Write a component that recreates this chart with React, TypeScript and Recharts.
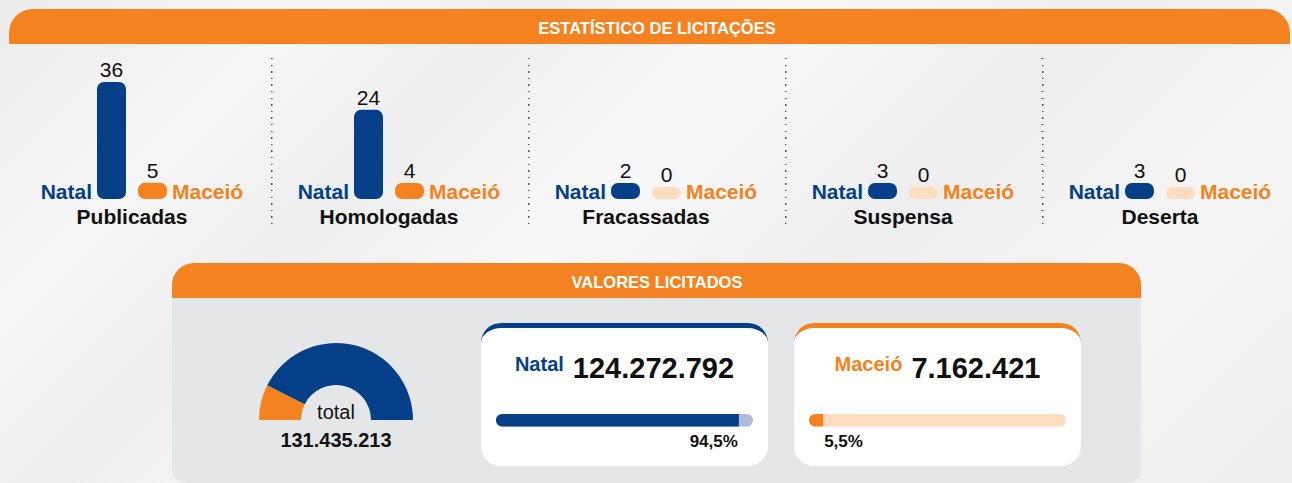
import { BarChart, Bar, XAxis, YAxis, LabelList, Cell, PieChart, Pie } from 'recharts'

const BLUE = '#043f88'
const ORANGE = '#f58220'
const PEACH = '#fddcbf'
const LAVENDER = '#b4b8dc'
const FONT = '"Liberation Sans", Arial, Helvetica, sans-serif'

// contagem de licitações por status
const categories = ['Publicadas', 'Homologadas', 'Fracassadas', 'Suspensa', 'Deserta']
const natalCounts = [36, 24, 2, 3, 3]
const maceioCounts = [5, 4, 0, 0, 0]
const axisMax = [48, 42, 42, 42, 42]

// valores licitados
const cities = ['Natal', 'Maceió']
const cityValues = [124272792, 7162421]
const cityShares = [94.5, 5.5]
const totalValue = 131435213

const fmtNumber = (v: number) => String(v).replace(/\B(?=(\d{3})+(?!\d))/g, '.')
const fmtPct = (v: number) => String(v).replace('.', ',') + '%'

const CityLabel = (props: any) => {
  const { x, y, width, height, value } = props
  const isNatal = value === 'Natal'
  return (
    <text
      x={isNatal ? x - 5 : x + width + 5}
      y={y + height}
      textAnchor={isNatal ? 'end' : 'start'}
      fill={isNatal ? BLUE : ORANGE}
      fontSize={21}
      fontWeight={700}
      fontFamily={FONT}
    >
      {value}
    </text>
  )
}

function StatusChart({ index }: { index: number }) {
  const data = [
    { city: cities[0], count: natalCounts[index] },
    { city: cities[1], count: maceioCounts[index] },
  ]
  const center = 132 + 257 * index
  return (
    <div style={{ position: 'absolute', left: center - 120, top: 13 }}>
      <BarChart width={240} height={190} data={data} margin={{ top: 30, right: 79, bottom: 4, left: 79 }}>
        <XAxis dataKey="city" hide />
        <YAxis hide domain={[0, axisMax[index]]} />
        <Bar
          dataKey="count"
          barSize={29}
          radius={7}
          minPointSize={(v: any) => (v === 0 ? 12 : 16)}
          isAnimationActive={false}
        >
          {data.map((d, i) => (
            <Cell key={i} fill={d.count === 0 ? PEACH : i === 0 ? BLUE : ORANGE} />
          ))}
          <LabelList dataKey="count" position="top" fill="#111" fontSize={21} fontFamily={FONT} />
          <LabelList dataKey="city" content={CityLabel} />
        </Bar>
      </BarChart>
      <div
        style={{
          position: 'absolute', left: 0, width: 240, top: 192, textAlign: 'center',
          fontSize: 21, lineHeight: '24px', fontWeight: 700, color: '#111',
        }}
      >
        {categories[index]}
      </div>
    </div>
  )
}

function ShareBar({ index }: { index: number }) {
  const data = [{ city: cities[index], share: cityShares[index] }]
  const isNatal = index === 0
  const left = isNatal ? 496 : 809
  const PctLabel = (props: any) => {
    const { x, y, width, height, value } = props
    return (
      <text
        x={isNatal ? x + width - 1 : x + width + 1}
        y={y + height + 20}
        textAnchor={isNatal ? 'end' : 'start'}
        fill="#111"
        fontSize={17}
        fontWeight={700}
        fontFamily={FONT}
      >
        {fmtPct(value)}
      </text>
    )
  }
  return (
    <div style={{ position: 'absolute', left, top: 413 }}>
      <BarChart width={257} height={40} data={data} layout="vertical" margin={{ top: 0, right: 0, bottom: 26, left: 0 }}>
        <XAxis type="number" domain={[0, 100]} hide />
        <YAxis type="category" dataKey="city" hide />
        <Bar
          dataKey="share"
          barSize={14}
          fill={isNatal ? BLUE : ORANGE}
          radius={[7, 0, 0, 7]}
          background={{ fill: isNatal ? LAVENDER : PEACH, radius: 7 } as any}
          isAnimationActive={false}
        >
          <LabelList dataKey="share" content={PctLabel} />
        </Bar>
      </BarChart>
    </div>
  )
}

function CityCard({ index }: { index: number }) {
  const isNatal = index === 0
  const left = isNatal ? 481 : 794
  const color = isNatal ? BLUE : ORANGE
  return (
    <>
      <div
        style={{
          position: 'absolute', left, top: 323, width: 287, height: 143, boxSizing: 'border-box',
          background: '#fff', borderTop: `5px solid ${color}`, borderRadius: 20,
        }}
      />
      <div
        style={{
          position: 'absolute', left, top: 351, width: 287, height: 34, display: 'flex',
          justifyContent: 'center', alignItems: 'baseline', gap: 9, lineHeight: '34px',
        }}
      >
        <span style={{ fontSize: 20, fontWeight: 700, color, position: 'relative', top: -7 }}>{cities[index]}</span>
        <span style={{ fontSize: 29, fontWeight: 700, color: '#111' }}>{fmtNumber(cityValues[index])}</span>
      </div>
      <ShareBar index={index} />
    </>
  )
}

export default function App() {
  const pieData = [
    { city: cities[1], value: cityValues[1] },
    { city: cities[0], value: cityValues[0] },
  ]
  return (
    <div
      style={{
        position: 'relative', width: 1292, height: 483, overflow: 'hidden', fontFamily: FONT,
        background:
          'linear-gradient(135deg, #ececec 0%, #f6f6f6 18%, #eeeeee 30%, #f8f8f8 45%, #eeeeee 62%, #f5f5f5 80%, #eeeeee 100%)',
      }}
    >
      <style>{'body{margin:0}'}</style>

      {/* cabeçalho superior */}
      <div
        style={{
          position: 'absolute', left: 9, top: 9, width: 1281, height: 35, background: ORANGE,
          borderRadius: '24px 24px 0 0',
        }}
      />
      <div
        style={{
          position: 'absolute', left: 407, width: 500, top: 17, lineHeight: '22px', textAlign: 'center',
          color: '#fff', fontWeight: 700, fontSize: 16.5,
        }}
      >
        ESTATÍSTICO DE LICITAÇÕES
      </div>

      {[0, 1, 2, 3].map((i) => (
        <div
          key={i}
          style={{
            position: 'absolute', left: 271 + 257 * i, top: 58, width: 2, height: 170,
            backgroundImage: 'repeating-linear-gradient(to bottom, #555 0px, #555 1.5px, transparent 1.5px, transparent 6.6px)',
            backgroundSize: '1.5px 100%', backgroundRepeat: 'no-repeat',
          }}
        />
      ))}

      {categories.map((_, i) => (
        <StatusChart key={i} index={i} />
      ))}

      {/* painel de valores */}
      <div
        style={{
          position: 'absolute', left: 172, top: 263, width: 969, height: 220, background: '#e5e6e8',
          borderRadius: '22px 22px 14px 14px', overflow: 'hidden',
        }}
      >
        <div style={{ height: 35, background: ORANGE }} />
      </div>
      <div
        style={{
          position: 'absolute', left: 407, width: 500, top: 271, lineHeight: '22px', textAlign: 'center',
          color: '#fff', fontWeight: 700, fontSize: 16.5,
        }}
      >
        VALORES LICITADOS
      </div>

      <div style={{ position: 'absolute', left: 236, top: 330 }}>
        <PieChart width={200} height={100} margin={{ top: 0, right: 0, bottom: 0, left: 0 }}>
          <Pie
            data={pieData}
            dataKey="value"
            nameKey="city"
            cx={100}
            cy={90}
            startAngle={180}
            endAngle={0}
            minAngle={19}
            innerRadius={35}
            outerRadius={77}
            stroke="none"
            isAnimationActive={false}
          >
            <Cell fill={ORANGE} />
            <Cell fill={BLUE} />
          </Pie>
        </PieChart>
      </div>
      <div style={{ position: 'absolute', left: 236, width: 200, top: 400, textAlign: 'center', fontSize: 20, lineHeight: '24px', color: '#111' }}>
        total
      </div>
      <div style={{ position: 'absolute', left: 236, width: 200, top: 428, textAlign: 'center', fontSize: 20, lineHeight: '24px', fontWeight: 700, color: '#111' }}>
        {fmtNumber(totalValue)}
      </div>

      <CityCard index={0} />
      <CityCard index={1} />
    </div>
  )
}
